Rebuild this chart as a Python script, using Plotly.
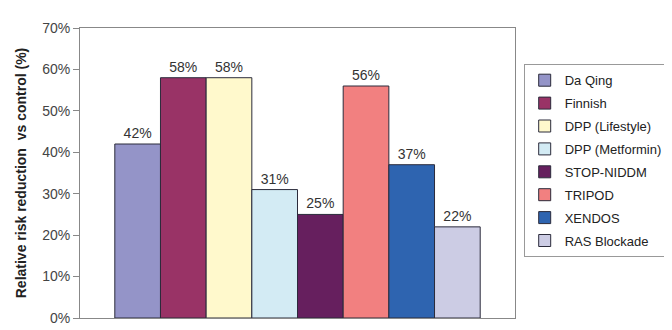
import plotly.graph_objects as go

studies = ["Da Qing", "Finnish", "DPP (Lifestyle)", "DPP (Metformin)",
           "STOP-NIDDM", "TRIPOD", "XENDOS", "RAS Blockade"]
reductions = [0.42, 0.58, 0.58, 0.31, 0.25, 0.56, 0.37, 0.22]
colors = ["#9494C8", "#993366", "#FFF9CC", "#D3EBF4",
          "#661F5E", "#F28080", "#2E64B0", "#CCCCE4"]
y_ticks = [0, 0.1, 0.2, 0.3, 0.4, 0.5, 0.6, 0.7]

FONT = "Liberation Sans, Arial, sans-serif"

fig = go.Figure()
for name, val, col in zip(studies, reductions, colors):
    fig.add_trace(go.Bar(
        x=["all"], y=[val], name=name, legendgroup=name,
        marker=dict(color=col, line=dict(color="#2b2b3b", width=1)),
        text=[f"{round(val*100)}%"], textposition="outside",
        textfont=dict(size=14, color="#333333", family=FONT),
        cliponaxis=False,
    ))

fig.update_layout(
    width=672, height=330,
    margin=dict(l=72, r=157, t=20, b=12),
    barmode="group", bargap=0.16, bargroupgap=0,
    plot_bgcolor="white", paper_bgcolor="white",
    font=dict(family=FONT, size=14, color="#333333"),
    showlegend=True,
    legend=dict(
        x=1.02, y=0.875, xanchor="left", yanchor="top",
        bordercolor="#999999", borderwidth=1,
        traceorder="grouped", tracegroupgap=3,
        font=dict(size=13, color="#222222", family=FONT),
    ),
    xaxis=dict(showticklabels=False, showline=True, linecolor="#888888",
               mirror=True, ticks="", showgrid=False, zeroline=False),
    yaxis=dict(range=[0, 0.7], tickvals=y_ticks, tickformat=".0%",
               showline=True, linecolor="#888888", mirror=True,
               ticks="outside", ticklen=6, tickcolor="#888888",
               showgrid=False, zeroline=False,
               tickfont=dict(size=14, color="#444444", family=FONT),
               title=dict(text="<b>Relative risk reduction  vs control (%)</b>",
                          font=dict(size=14, color="#222222", family=FONT),
                          standoff=12)),
)

fig.write_html("out.html")
